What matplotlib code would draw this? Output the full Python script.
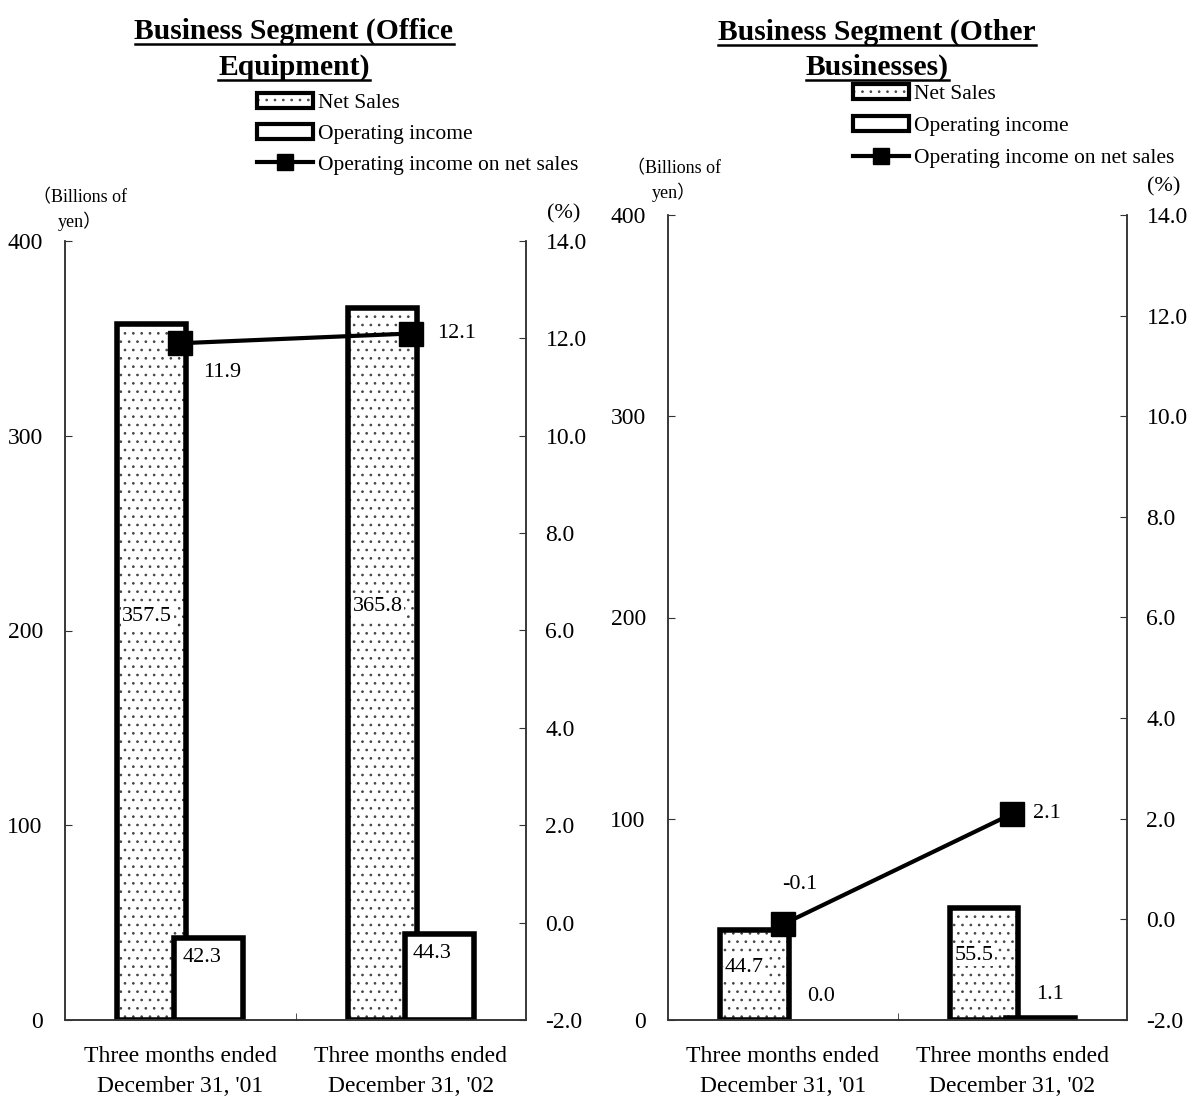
import matplotlib
matplotlib.use("Agg")
import matplotlib.pyplot as plt
from matplotlib.patches import Patch
from matplotlib.lines import Line2D
import numpy as np

plt.rcParams["font.family"] = ["Liberation Serif", "Noto Sans CJK JP"]
plt.rcParams["hatch.linewidth"] = 0.7

# ---- data ----
periods = ["Three months ended\nDecember 31, '01", "Three months ended\nDecember 31, '02"]
legend_labels = ["Net Sales", "Operating income", "Operating income on net sales"]
yen_ticks = [0, 100, 200, 300, 400]
pct_ticks = [-2.0, 0.0, 2.0, 4.0, 6.0, 8.0, 10.0, 12.0, 14.0]

office_title = ["Business Segment (Office", "Equipment)"]
office_net_sales = [357.5, 365.8]
office_op_income = [42.3, 44.3]
office_margin = [11.9, 12.1]

other_title = ["Business Segment (Other", "Businesses)"]
other_net_sales = [44.7, 55.5]
other_op_income = [0.0, 1.1]
other_margin = [-0.1, 2.1]

# ---- figure ----
W, H = 1191, 1097
fig = plt.figure(figsize=(W / 100, H / 100), dpi=100)


def fx(x):
    return x / W


def fy(y):
    return 1 - y / H


SPINE = "#333333"
DOTS = "#444444"
OFF, BW = 0.123, 0.30


def panel(rect, net, opi, margin, op_style, margin_offsets):
    left, top, right, bottom = rect
    ax = fig.add_axes([fx(left), fy(bottom), fx(right) - fx(left), fy(top) - fy(bottom)])
    x = np.arange(len(net))

    # net sales (dotted) behind, operating income (plain) in front
    ax.bar(x - OFF, net, BW, facecolor="white", edgecolor=DOTS,
           hatch="..", linewidth=0, zorder=2)
    ax.bar(x - OFF, net, BW, fill=False, edgecolor="black", linewidth=4, zorder=2.5)
    ax.bar(x + OFF, opi, BW, facecolor="white", edgecolor="black",
           linewidth=[4 if v > 0 else 0 for v in opi], zorder=3)

    ax.set_xlim(-0.5, 1.5)
    ax.set_ylim(yen_ticks[0], yen_ticks[-1])
    ax.set_yticks(yen_ticks)
    ax.set_yticklabels([str(t) for t in yen_ticks])
    ax.set_xticks(x)
    ax.set_xticklabels(periods, fontsize=17, linespacing=1.55)
    ax.set_xticks([0.5], minor=True)
    ax.tick_params(axis="x", which="major", length=0, pad=19)
    ax.tick_params(axis="x", which="minor", direction="in", length=5, color=SPINE)
    ax.tick_params(axis="y", direction="in", length=5, color=SPINE, labelsize=17, pad=16)
    for s in ("left", "right", "bottom"):
        ax.spines[s].set_color(SPINE)
        ax.spines[s].set_linewidth(1.1)
    ax.spines["top"].set_visible(False)

    # net sales labels, left-aligned inside the bars
    for xi, v in zip(x, net):
        ax.annotate(f"{v:.1f}", xy=(xi - OFF - BW / 2, v * 0.58), xytext=(3.5, 0),
                    textcoords="offset points", ha="left", va="center", fontsize=16,
                    bbox=dict(fc="white", ec="none", pad=1), zorder=6)
    # operating income labels
    for xi, v in zip(x, opi):
        if op_style == "inside":
            ax.annotate(f"{v:.1f}", xy=(xi + OFF - BW / 2, v), xytext=(6, -14),
                        textcoords="offset points", ha="left", va="center",
                        fontsize=16, zorder=6)
        else:
            ax.annotate(f"{v:.1f}", xy=(xi + OFF, v), xytext=(7, 17),
                        textcoords="offset points", ha="center", va="center",
                        fontsize=16, zorder=6)

    ax2 = ax.twinx()
    ax2.set_ylim(pct_ticks[0], pct_ticks[-1])
    ax2.set_yticks(pct_ticks)
    ax2.set_yticklabels([f"{t:.1f}" for t in pct_ticks])
    ax2.tick_params(axis="y", direction="in", length=5, color=SPINE, labelsize=17, pad=14)
    for s in ("left", "right", "bottom"):
        ax2.spines[s].set_color(SPINE)
        ax2.spines[s].set_linewidth(1.1)
    ax2.spines["top"].set_visible(False)
    ax2.plot(x, margin, color="black", lw=3, marker="s", ms=17, zorder=5)
    for xi, v, (dx, dy) in zip(x, margin, margin_offsets):
        ax2.annotate(f"{v:.1f}", xy=(xi, v), xytext=(dx, dy), textcoords="offset points",
                     ha="center", va="center", fontsize=16)
    return ax, ax2


panel((65, 241, 526, 1020), office_net_sales, office_op_income, office_margin,
      "inside", [(30, -21), (33, 0)])
panel((668, 215, 1127, 1020), other_net_sales, other_op_income, other_margin,
      "outside", [(12, 29), (25, 0)])

# unit captions
fig.text(fx(80), fy(210), "（Billions of\nyen）", ha="center", va="center",
         fontsize=13, linespacing=1.3)
fig.text(fx(674), fy(181), "（Billions of\nyen）", ha="center", va="center",
         fontsize=13, linespacing=1.3)
fig.text(fx(564), fy(214), "(%)", ha="center", va="center", fontsize=16)
fig.text(fx(1164), fy(187), "(%)", ha="center", va="center", fontsize=16)

# underlined titles
title_texts = []
for cx, lines, ys in ((294, office_title, (31, 67)), (877, other_title, (32, 67))):
    for line, yy in zip(lines, ys):
        t = fig.text(fx(cx), fy(yy), line, ha="center", va="center",
                     fontsize=21.3, fontweight="bold")
        title_texts.append(t)

fig.canvas.draw()
renderer = fig.canvas.get_renderer()
for t in title_texts:
    bb = t.get_window_extent(renderer)
    yline = (bb.y0 + 1) / H
    fig.add_artist(Line2D([bb.x0 / W, bb.x1 / W], [yline, yline],
                          transform=fig.transFigure, color="black", lw=1.8))

# legends
handles = [
    (Patch(facecolor="white", edgecolor=DOTS, hatch="..", linewidth=0),
     Patch(fill=False, edgecolor="black", linewidth=3)),
    Patch(facecolor="white", edgecolor="black", linewidth=3),
    Line2D([], [], color="black", lw=3, marker="s", ms=11),
]
for lx, ly, sp in ((257, 93, 0.5), (853, 84, 0.56)):
    fig.legend(handles, legend_labels, loc="upper left",
               bbox_to_anchor=(fx(lx), fy(ly)), frameon=False, fontsize=15.5,
               borderpad=0, borderaxespad=0, handlelength=2.6, handleheight=0.7,
               handletextpad=0.25, labelspacing=sp)

fig.savefig("out.png", dpi=100)
